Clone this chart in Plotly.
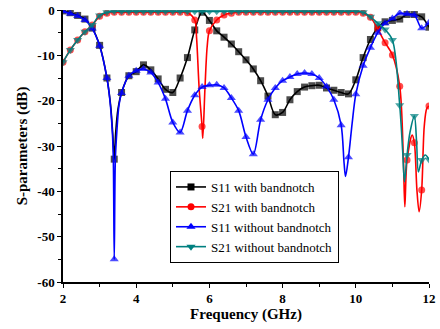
import plotly.graph_objects as go

# ---------------- data ----------------
freq_s11_with = [2.0, 2.2, 2.4, 2.6, 2.8, 3.0, 3.2, 3.3, 3.36, 3.4, 3.44, 3.5, 3.6, 3.8,
                 4.0, 4.2, 4.4, 4.6, 4.8, 5.0, 5.2, 5.4, 5.6, 5.8, 6.0, 6.2, 6.4, 6.6,
                 6.8, 7.0, 7.2, 7.4, 7.6, 7.8, 8.0, 8.2, 8.4, 8.6, 8.8, 9.0, 9.2, 9.4,
                 9.6, 9.8, 10.0, 10.2, 10.4, 10.6, 10.8, 11.0, 11.2, 11.4, 11.6, 11.8, 12.0]
s11_with = [-0.2, -0.6, -1.2, -2.0, -4.0, -7.8, -15.0, -21.0, -27.5, -32.9, -27.0, -22.0, -18.2, -14.5,
            -13.6, -12.1, -13.2, -15.2, -17.5, -18.2, -15.0, -10.5, -4.4, -0.5, -2.3, -4.6, -6.0, -7.5,
            -9.2, -11.0, -13.0, -15.6, -19.0, -23.1, -22.6, -19.8, -18.0, -17.0, -16.7, -16.6, -17.2, -17.7,
            -18.2, -18.5, -15.4, -10.5, -6.5, -3.9, -2.6, -2.3, -2.0, -1.0, -1.0, -1.5, -3.8]

freq_s21_with = [2.0, 2.2, 2.4, 2.6, 2.8, 3.0, 3.2, 3.4, 3.6, 3.8, 4.0, 4.2, 4.4, 4.6, 4.8,
                 5.0, 5.2, 5.4, 5.6, 5.65, 5.72, 5.8, 5.82, 5.88, 5.94, 6.0, 6.2, 6.4, 6.6,
                 6.8, 7.0, 7.2, 7.4, 7.6, 7.8, 8.0, 8.2, 8.4, 8.6, 8.8, 9.0, 9.2, 9.4, 9.6,
                 9.8, 10.0, 10.2, 10.4, 10.6, 10.8, 11.0, 11.2, 11.3, 11.34, 11.4, 11.54,
                 11.6, 11.67, 11.73, 11.8, 11.87, 11.94, 12.0]
s21_with = [-11.5, -8.8, -6.6, -4.8, -3.3, -1.4, -0.7, -0.5, -0.5, -0.5, -0.5, -0.5, -0.5, -0.5, -0.5,
            -0.5, -0.5, -0.6, -2.2, -6.2, -17.3, -25.7, -28.3, -17.0, -8.0, -4.6, -2.2, -1.1, -0.7,
            -0.5, -0.5, -0.5, -0.5, -0.5, -0.5, -0.5, -0.5, -0.5, -0.5, -0.5, -0.5, -0.5, -0.5, -0.5,
            -0.5, -0.5, -0.7, -1.6, -4.2, -7.2, -9.9, -16.8, -33.0, -43.4, -33.1, -27.6,
            -29.3, -39.7, -44.5, -39.7, -25.7, -21.7, -21.2]

freq_s11_without = [2.0, 2.2, 2.4, 2.6, 2.8, 3.0, 3.2, 3.28, 3.35, 3.375, 3.4, 3.43, 3.47, 3.53,
                    3.6, 3.8, 4.0, 4.2, 4.4, 4.6, 4.8, 5.0, 5.2, 5.4, 5.6, 5.8, 6.0, 6.2, 6.4,
                    6.6, 6.8, 7.0, 7.2, 7.4, 7.6, 7.8, 8.0, 8.2, 8.4, 8.6, 8.8, 9.0, 9.2, 9.4,
                    9.6, 9.68, 9.72, 9.8, 9.9, 10.0, 10.2, 10.4, 10.6, 10.8, 11.0, 11.2, 11.4,
                    11.6, 11.8, 12.0]
s11_without = [-0.3, -0.8, -1.3, -2.2, -4.1, -7.9, -15.0, -19.8, -27.2, -33.0, -55.0, -33.0, -27.0, -21.0,
               -18.3, -14.5, -13.4, -13.0, -13.8, -16.0, -19.6, -24.8, -27.0, -22.2, -18.8, -17.0, -16.6, -16.5, -17.2,
               -19.4, -22.2, -28.0, -31.8, -24.2, -19.8, -17.2, -15.6, -14.8, -14.1, -13.9, -14.1, -15.0, -16.9, -19.8,
               -25.4, -33.8, -36.7, -32.5, -25.0, -18.6, -12.3, -8.3, -5.0, -2.9, -1.9, -0.7, -0.9,
               -1.1, -4.0, -2.8]

freq_s21_without = [2.0, 2.2, 2.4, 2.6, 2.8, 3.0, 3.2, 3.4, 3.6, 3.8, 4.0, 4.2, 4.4, 4.6, 4.8,
                    5.0, 5.2, 5.4, 5.6, 5.8, 6.0, 6.2, 6.4, 6.6, 6.8, 7.0, 7.2, 7.4, 7.6, 7.8,
                    8.0, 8.2, 8.4, 8.6, 8.8, 9.0, 9.2, 9.4, 9.6, 9.8, 10.0, 10.2, 10.4, 10.6,
                    10.8, 11.0, 11.2, 11.28, 11.33, 11.4, 11.48, 11.6, 11.66, 11.71, 11.8, 11.9, 12.0]
s21_without = [-11.5, -8.8, -6.6, -4.8, -3.3, -1.2, -0.5, -0.3, -0.3, -0.3, -0.3, -0.3, -0.3, -0.3, -0.3,
               -0.3, -0.3, -0.3, -0.3, -0.3, -0.3, -0.3, -0.3, -0.3, -0.3, -0.3, -0.3, -0.3, -0.3, -0.3,
               -0.3, -0.3, -0.3, -0.3, -0.3, -0.3, -0.3, -0.3, -0.3, -0.3, -0.3, -0.5, -1.5, -2.9,
               -4.3, -6.6, -21.0, -31.0, -37.9, -32.0, -27.0, -23.4, -29.0, -35.7, -33.1, -32.0, -33.0]

series_names = ["S11 with bandnotch", "S21 with bandnotch",
                "S11 without bandnotch", "S21 without bandnotch"]

x_tick_vals = [2, 4, 6, 8, 10, 12]
x_tick_text = ["2", "4", "6", "8", "10", "12"]
y_tick_vals = [0, -10, -20, -30, -40, -50, -60]
y_tick_text = ["0", "-10", "-20", "-30", "-40", "-50", "-60"]

# ---------------- styling ----------------
series = [
    (freq_s11_with, s11_with, "#000000", "square", 7),
    (freq_s21_with, s21_with, "#ff0000", "circle", 7),
    (freq_s11_without, s11_without, "#0000ff", "triangle-up", 8),
    (freq_s21_without, s21_without, "#008080", "triangle-down", 8),
]

SERIF = "Liberation Serif"


def marker_sizes(freqs, size):
    # markers only on the 0.2 GHz grid (like the original plot's point skipping)
    return [size if abs(f * 5 - round(f * 5)) < 1e-6 else 0 for f in freqs]


fig = go.Figure()
for (fx, fy, color, sym, msize), name in zip(series, series_names):
    fig.add_trace(go.Scatter(
        x=fx, y=fy, mode="lines+markers", showlegend=False, name=name,
        line=dict(color=color, width=1.6, shape="spline", smoothing=0.9),
        marker=dict(symbol=sym, color=color, size=marker_sizes(fx, msize), line=dict(width=0)),
    ))

for (fx, fy, color, sym, msize), name in zip(series, series_names):
    fig.add_trace(go.Scatter(
        x=[None], y=[None], mode="lines+markers", name=name, showlegend=True,
        line=dict(color=color, width=1.6),
        marker=dict(symbol=sym, color=color, size=msize),
    ))

fig.update_layout(
    width=440, height=329,
    margin=dict(l=63, r=11, t=10, b=47, autoexpand=False),
    paper_bgcolor="white", plot_bgcolor="white",
    font=dict(family=SERIF, color="black"),
    legend=dict(
        x=(170 - 63) / 366, y=(282 - 171) / 272, xanchor="left", yanchor="top",
        bgcolor="white", bordercolor="black", borderwidth=1,
        font=dict(family=SERIF, size=13, color="black"),
        itemwidth=30, tracegroupgap=0,
    ),
)

fig.update_xaxes(
    range=[2, 12], showgrid=False, zeroline=False, automargin=False,
    showline=True, linecolor="black", linewidth=1.5, mirror=False,
    tickmode="array", tickvals=x_tick_vals, ticktext=x_tick_text,
    ticks="outside", ticklen=4, tickwidth=1.2, tickcolor="black",
    minor=dict(dtick=1, tick0=2, ticks="outside", ticklen=3, tickwidth=1.2, tickcolor="black"),
    tickfont=dict(family=SERIF, size=13, color="black", weight="bold"),
    title=dict(text="Frequency (GHz)", standoff=3,
               font=dict(family=SERIF, size=15, color="black", weight="bold")),
)
fig.update_yaxes(
    range=[-60, 0], showgrid=False, zeroline=False, automargin=False,
    showline=True, linecolor="black", linewidth=1.5, mirror=False,
    tickmode="array", tickvals=y_tick_vals, ticktext=y_tick_text,
    ticks="outside", ticklen=4, tickwidth=1.2, tickcolor="black",
    minor=dict(dtick=5, tick0=0, ticks="outside", ticklen=3, tickwidth=1.2, tickcolor="black"),
    tickfont=dict(family=SERIF, size=13, color="black", weight="bold"),
    title=dict(text="S-parameters (dB)", standoff=6,
               font=dict(family=SERIF, size=15, color="black", weight="bold")),
)

fig.write_html("out.html", config={"displayModeBar": False},
               post_script="document.body.style.margin='0';")
